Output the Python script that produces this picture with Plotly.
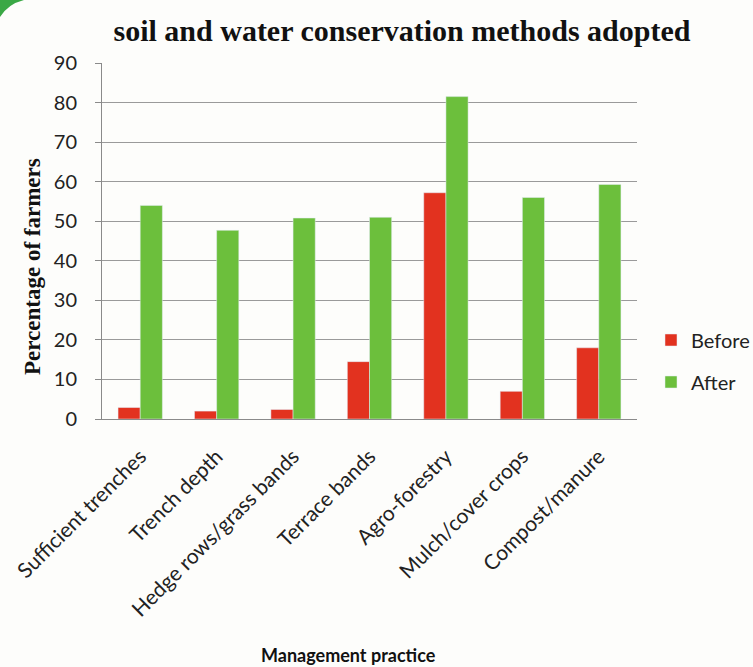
import plotly.graph_objects as go

categories = ["Sufficient trenches", "Trench depth", "Hedge rows/grass bands",
              "Terrace bands", "Agro-forestry", "Mulch/cover crops", "Compost/manure"]
before = [2.9, 2.0, 2.4, 14.5, 57.2, 7.0, 18.0]
after = [54.0, 47.7, 50.8, 51.0, 81.5, 56.0, 59.3]
y_ticks = [0, 10, 20, 30, 40, 50, 60, 70, 80, 90]

W, H = 753, 667
L, R, T, B = 102, 116, 63, 248
pw, ph = W - L - R, H - T - B

def px(x):
    return (x - L) / pw

def py(y):
    return (H - B - y) / ph

fig = go.Figure()
fig.add_trace(go.Bar(x=categories, y=before, name="Before", marker_color="#e2321f",
                     legendgroup="a"))
fig.add_trace(go.Bar(x=categories, y=after, name="After", marker_color="#6cbf3c",
                     legendgroup="b"))

corner = f"M {px(0)},{py(0)} L {px(24)},{py(0)} Q {px(8)},{py(4)} {px(0)},{py(17)} Z"

fig.update_layout(
    width=W, height=H,
    margin=dict(l=L, r=R, t=T, b=B, autoexpand=False),
    paper_bgcolor="#fdfdfb", plot_bgcolor="#fdfdfb",
    barmode="group", bargap=0.42, bargroupgap=0,
    font=dict(family="Lato, sans-serif", color="#222222", size=17),
    title=dict(text="<b>soil and water conservation methods adopted</b>",
               font=dict(family="Liberation Serif, serif", size=30, color="#111111"),
               x=px(402), xanchor="center", xref="paper", y=1 - 30 / H, yanchor="middle"),
    xaxis=dict(tickangle=-45, tickfont=dict(size=21, family="Lato, sans-serif"),
               showline=True, linecolor="#8a8a8a", linewidth=1, ticks="",
               showgrid=False, ticklabelstandoff=16),
    yaxis=dict(range=[0, 90], tickvals=y_ticks, showgrid=True, gridcolor="#9a9a9a",
               gridwidth=1, showline=True, linecolor="#8a8a8a", linewidth=1,
               ticks="outside", ticklen=6, tickcolor="#8a8a8a",
               tickfont=dict(size=20, family="Lato, sans-serif"),
               ticklabelstandoff=14, zeroline=False),
    legend=dict(x=px(651), xanchor="left", y=py(361), yanchor="middle",
                font=dict(size=20, family="Lato, sans-serif"),
                tracegroupgap=13, bgcolor="rgba(0,0,0,0)", traceorder="grouped"),
    annotations=[
        dict(text="<b>Management practice</b>", xref="paper", yref="paper",
             x=px(348), y=py(655), xanchor="center", yanchor="middle",
             showarrow=False, font=dict(size=18, family="Lato, sans-serif", color="#111111")),
        dict(text="<b>Percentage of farmers</b>", xref="paper", yref="paper",
             x=px(32), y=py(267), xanchor="center", yanchor="middle", textangle=-90,
             showarrow=False, font=dict(size=23, family="Liberation Serif, serif", color="#111111")),
    ],
    shapes=[dict(type="path", path=corner, xref="paper", yref="paper",
                 fillcolor="#3aa845", line=dict(width=0), layer="above")],
)

fig.write_html("out.html")
